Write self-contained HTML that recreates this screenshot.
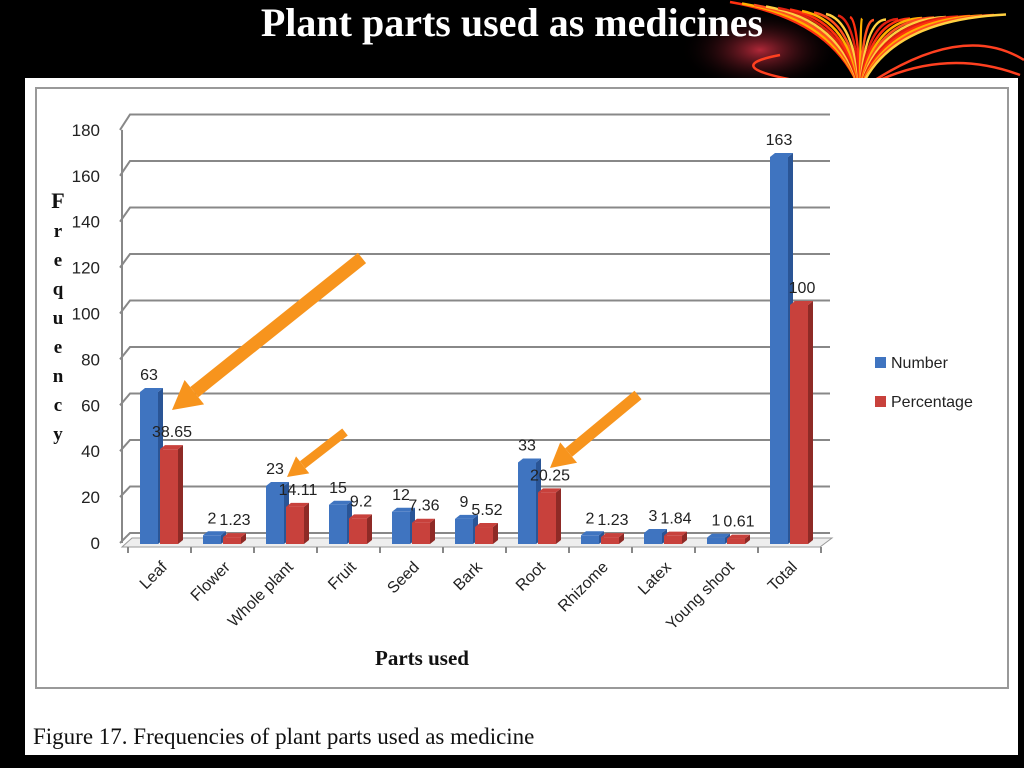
<!DOCTYPE html>
<html><head><meta charset="utf-8"><style>
html,body{margin:0;padding:0;background:#000;width:1024px;height:768px;overflow:hidden}
svg text{font-family:"Liberation Sans",sans-serif}
</style></head><body>
<svg id="s" width="1024" height="768" xmlns="http://www.w3.org/2000/svg">
<defs>
<radialGradient id="glow" cx="0.5" cy="0.5" r="0.5"><stop offset="0" stop-color="#b02838"/><stop offset="1" stop-color="#000" stop-opacity="0"/></radialGradient>
</defs>
<g>
<ellipse cx="760" cy="50" rx="80" ry="40" fill="url(#glow)"/>
<g stroke-width="2.5" fill="none" id="fw"></g>
</g>
<text x="512" y="36" text-anchor="middle" fill="#fff" font-size="40" font-weight="bold" style="font-family:'Liberation Serif',serif">Plant parts used as medicines</text>
<rect x="25" y="78" width="993" height="677" fill="#fff"/>
<rect x="36" y="88" width="972" height="600" fill="none" stroke="#999" stroke-width="2"/>
<g id="chart"></g>
<text x="33" y="744" font-size="23" fill="#111" style="font-family:'Liberation Serif',serif">Figure 17. Frequencies of plant parts used as medicine</text>
</svg>
<script>
const categories=["Leaf","Flower","Whole plant","Fruit","Seed","Bark","Root","Rhizome","Latex","Young shoot","Total"];
const numberVals=[63,2,23,15,12,9,33,2,3,1,163];
const percentVals=[38.65,1.23,14.11,9.2,7.36,5.52,20.25,1.23,1.84,0.61,100];
const numberLabels=["63","2","23","15","12","9","33","2","3","1","163"];
const percentLabels=["38.65","1.23","14.11","9.2","7.36","5.52","20.25","1.23","1.84","0.61","100"];
const yTicks=[0,20,40,60,80,100,120,140,160,180];
const NS="http://www.w3.org/2000/svg";
const g=document.getElementById('chart');
function el(t,a,p){const e=document.createElementNS(NS,t);for(const k in a)e.setAttribute(k,a[k]);(p||g).appendChild(e);return e;}
const yFront=v=>543-v*2.295, yBack=v=>533-v*2.325, yBar=v=>540-v*2.35;
const xC=i=>160+i*63;
// fireworks: streaks radiating upward from a point below the panel edge
const fw=document.getElementById('fw');
const cols=["#ff3010","#ffb000","#ff5020","#ffd040","#e02010"];
for(let k=0;k<24;k++){
 const ex=730+k*12, ey=k<12?(k*1.5):(18-(k-12)*0.5);
 const cx=860+(ex-860)*0.2, cy=20;
 const p=el('path',{d:`M860 90 Q${cx} ${cy} ${ex} ${ey+2}`,stroke:cols[k%5]},fw);
 }
[[960,20,1024,60],[940,45,1020,75],[700,70,780,55]].forEach(([a,b,c,d])=>{
 const p=el('path',{d:`M860 90 Q${a} ${b} ${c} ${d}`,stroke:'#ff4020'},fw);
 });
// gridlines
yTicks.forEach(v=>{
 const l=el('polyline',{points:`120,${yFront(v)} 130,${yBack(v)} 830,${yBack(v)}`,fill:'none',stroke:'#888','stroke-width':2});
 
 const t=el('text',{x:100,y:yFront(v)+6,'text-anchor':'end','font-size':17,fill:'#222'});t.textContent=v;
 
});
const ax=el('line',{x1:122,y1:yFront(180),x2:122,y2:yFront(0),stroke:'#888','stroke-width':2});

const floor=el('polygon',{points:`122,547 820,547 832,538 132,538`,fill:'#eee',stroke:'#999'});

for(let i=0;i<=categories.length;i++){const x=xC(i)-32;const tk=el('line',{x1:x,y1:547,x2:x,y2:553,stroke:'#888','stroke-width':2});
 }
function bar(x,v,fill,side,name){
 const top=yBar(v);
 const gg=el('g',{});
 el('rect',{x:x,y:top,width:18,height:544-top,fill:fill},gg);
 el('polygon',{points:`${x+18},${top} ${x+23},${top-4} ${x+23},${540} ${x+18},544`,fill:side},gg);
 el('polygon',{points:`${x},${top} ${x+5},${top-4} ${x+23},${top-4} ${x+18},${top}`,fill:fill},gg);
}
categories.forEach((c,i)=>{
 const x=xC(i);
 bar(x-20,numberVals[i],'#3f74c0','#2a5596','bar-number-'+i);
 bar(x,percentVals[i],'#c8413c','#8e2a26','bar-percentage-'+i);
 const t1=el('text',{x:x-11,y:yBar(numberVals[i])-12,'text-anchor':'middle','font-size':16,fill:'#222'});t1.textContent=numberLabels[i];
 
 const t2=el('text',{x:x+12,y:yBar(percentVals[i])-12,'text-anchor':'middle','font-size':16,fill:'#222'});t2.textContent=percentLabels[i];
 
 const xl=el('text',{x:x+8,y:568,'text-anchor':'end','font-size':16,fill:'#222',transform:`rotate(-45 ${x+8} 568)`});xl.textContent=c;
 
});
// y axis title
"Frequency".split('').forEach((ch,i)=>{const t=el('text',{x:58,y:208+i*29,'text-anchor':'middle','font-size':i==0?22:19,'font-weight':'bold',fill:'#111',style:"font-family:'Liberation Serif',serif"});t.textContent=ch;
 });
const xt=el('text',{x:422,y:665,'text-anchor':'middle','font-size':21,'font-weight':'bold',fill:'#111',style:"font-family:'Liberation Serif',serif"});xt.textContent="Parts used";

// legend
[["Number","#3f74c0",366],["Percentage","#c8413c",405]].forEach(([n,c,y])=>{
 const lg=el('g',{});
 el('rect',{x:875,y:y-9,width:11,height:11,fill:c},lg);
 const t=el('text',{x:891,y:y+2,'font-size':16,fill:'#222'},lg);t.textContent=n;
});
// arrows
function arrow(x1,y1,x2,y2,w,name){
 const a=Math.atan2(y2-y1,x2-x1),L=w*2.2;
 const bx=x2-Math.cos(a)*L,by=y2-Math.sin(a)*L;
 const ag=el('g',{});
 el('line',{x1:x1,y1:y1,x2:bx,y2:by,stroke:'#f7941d','stroke-width':w},ag);
 const px=-Math.sin(a)*w*1.2,py=Math.cos(a)*w*1.2;
 el('polygon',{points:`${x2},${y2} ${bx+px},${by+py} ${bx-px},${by-py}`,fill:'#f7941d'},ag);
}
arrow(362,258,172,410,13,'arrow-leaf');
arrow(345,432,287,477,9,'arrow-whole-plant');
arrow(638,395,550,468,11,'arrow-root');
</script>
</body></html>
